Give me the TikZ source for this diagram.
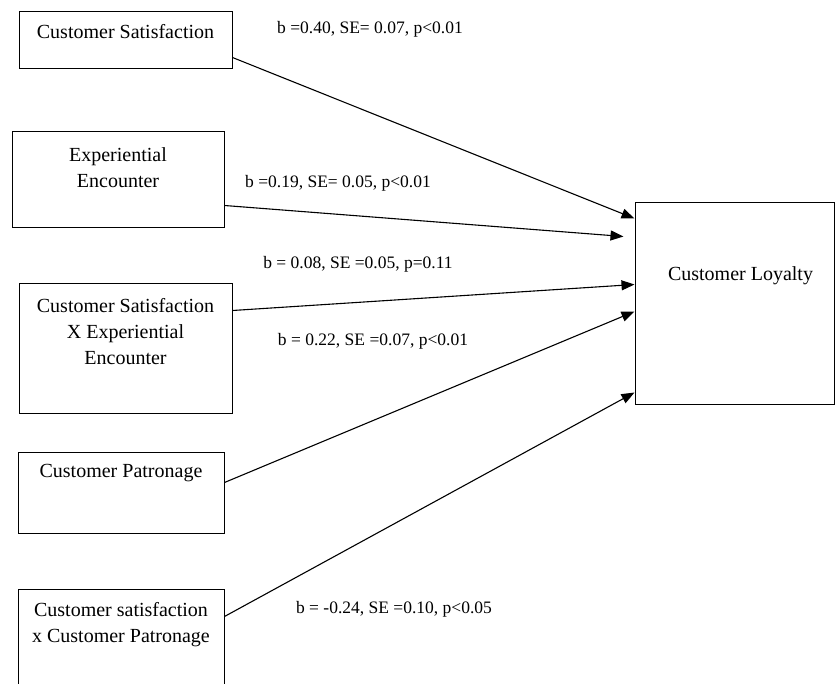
\documentclass[tikz,border=0pt]{standalone}
\usepackage{fontspec}
\setmainfont{Liberation Serif}
\usetikzlibrary{arrows.meta, positioning}

\begin{document}
\begin{tikzpicture}[x=1pt, y=-1pt, >={Triangle[length=13pt, width=10pt]},
    font=\fontsize{20}{26}\selectfont,
    varbox/.style={draw, line width=1pt, inner sep=0pt},
    coef/.style={anchor=base, inner sep=0pt, font=\fontsize{17.5}{21}\selectfont}]
    \clip (0,0) rectangle (835,684);

    % predictors
    \node[varbox, minimum width=213, minimum height=57,
          label={[anchor=north, yshift=-9pt]north:Customer Satisfaction}] (cs) at (125.5,40.5) {};
    \node[varbox, minimum width=212, minimum height=96,
          label={[anchor=north, yshift=-13pt, align=center]north:Experiential\\Encounter}] (ee) at (118,180) {};
    \node[varbox, minimum width=213, minimum height=129,
          label={[anchor=north, yshift=-11pt, align=center]north:Customer Satisfaction\\X Experiential\\Encounter}] (csee) at (125.5,348.5) {};
    \node[varbox, minimum width=206, minimum height=81,
          label={[anchor=north, yshift=-9pt]north:Customer Patronage}] (cp) at (121,492.5) {};
    \node[varbox, minimum width=206, minimum height=151,
          label={[anchor=north, yshift=-10pt, align=center]north:Customer satisfaction\\x Customer Patronage}] (cscp) at (121,664.5) {};

    % outcome
    \node[varbox, minimum width=199, minimum height=201,
          label={[anchor=north, yshift=-61pt, xshift=6pt]north:Customer Loyalty}] (cl) at (734.5,303.5) {};

    % paths
    \draw[->, line width=1.1pt] ([yshift=12pt]cs.south east) -- ([yshift=-16pt]cl.north west);
    \draw[->, line width=1.1pt] ([yshift=23pt]ee.south east) -- ([xshift=-11pt, yshift=-34pt]cl.north west);
    \draw[->, line width=1.1pt] ([yshift=-27pt]csee.north east) -- ([yshift=-82pt]cl.north west);
    \draw[->, line width=1.1pt] ([yshift=-31pt]cp.north east) -- ([yshift=-109pt]cl.north west);
    \draw[->, line width=1.1pt] ([yshift=-28pt]cscp.north east) -- ([yshift=-190pt]cl.north west);

    % coefficients
    \node[coef] (b1) at (370,34) {b =0.40, SE= 0.07, p<0.01};
    \node[coef] (b2) at (338,188) {b =0.19, SE= 0.05, p<0.01};
    \node[coef] (b3) at (358,269) {b = 0.08, SE =0.05, p=0.11};
    \node[coef] (b4) at (373,345) {b = 0.22, SE =0.07, p<0.01};
    \node[coef] (b5) at (394,613) {b = -0.24, SE =0.10, p<0.05};
\end{tikzpicture}
\end{document}
